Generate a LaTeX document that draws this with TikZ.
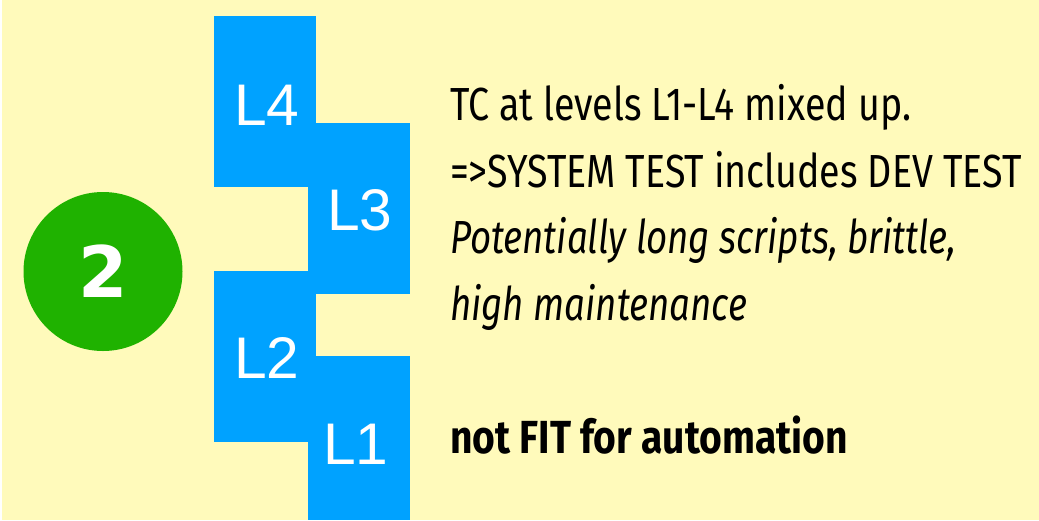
\documentclass[tikz,border=0pt]{standalone}
\usepackage{fontspec}
\newfontfamily\bodyfont{Fira Sans}[FakeStretch=0.81]
\newfontfamily\slantfont{Fira Sans}[FakeStretch=0.79]
\newfontfamily\heavyfont{Fira Sans}[FakeStretch=0.84]
\newfontfamily\lblfont{Liberation Sans}
\newfontfamily\numfont{DejaVu Sans}
\definecolor{paper}{HTML}{FFFABB}
\definecolor{levelblue}{HTML}{00A2FF}
\definecolor{badgegreen}{HTML}{1FB200}
\tikzset{
  levelbox/.style={fill=levelblue, draw=none, inner sep=0pt, minimum width=102pt, minimum height=171pt},
  levellabel/.style={text=white, inner sep=0pt, font=\lblfont\fontsize{58.7}{60}\selectfont},
  bodytext/.style={anchor=base west, inner sep=0pt, text=black, font=\bodyfont\fontsize{46.4}{55}\selectfont},
  slanttext/.style={bodytext, font=\slantfont\itshape\fontsize{46.4}{55}\selectfont},
  heavytext/.style={bodytext, font=\heavyfont\bfseries\fontsize{46.4}{55}\selectfont},
}
\begin{document}
\begin{tikzpicture}[x=1pt, y=-1pt]
  % page background
  \useasboundingbox (0,0) rectangle (1039,520);
  \fill[white] (0,0) rectangle (1039,520);
  \fill[paper] (2,0) rectangle (1039,520);

  % number badge
  \node[circle, fill=badgegreen, minimum size=159pt, inner sep=0pt] (badge) at (103,271.5) {};
  \node[text=white, inner sep=0pt, font=\numfont\bfseries\fontsize{71}{72}\selectfont] (badgenum) at (103,271.5) {2};

  % staircase of test levels
  \node[levelbox] (b4) at (265,101.5) {};
  \node[levelbox] (b3) at (359,208.5) {};
  \node[levelbox] (b2) at (265,356.5) {};
  \node[levelbox, minimum height=164pt] (b1) at (359,438) {};
  \node[levellabel] (t4) at (267,105) {L4};
  \node[levellabel] (t3) at (360,210) {L3};
  \node[levellabel] (t2) at (267,358) {L2};
  \node[levellabel] (t1) at (356,444) {L1};

  % description
  \node[bodytext] (line1) at (450,120) {TC at levels L1-L4 mixed up.};
  \node[bodytext] (line2) at (450,187) {=>SYSTEM TEST includes DEV TEST};
  \node[slanttext] (line3) at (450,253) {Potentially long scripts, brittle,};
  \node[slanttext] (line4) at (450,320) {high maintenance};
  \node[heavytext] (verdict) at (450,453) {not FIT for automation};
\end{tikzpicture}
\end{document}
